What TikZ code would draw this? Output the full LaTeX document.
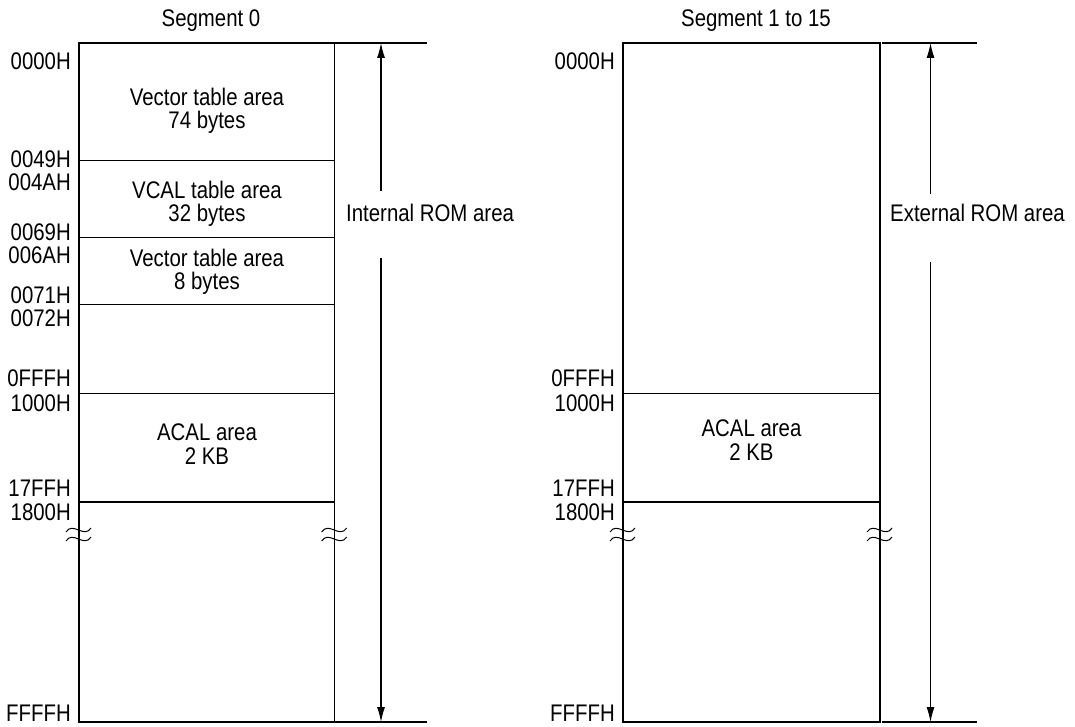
\documentclass[tikz,border=0pt]{standalone}
\usepackage{fontspec}
\setmainfont{Liberation Sans}[FakeStretch=0.85]
\usepackage{tikz}
\usetikzlibrary{arrows.meta}

\tikzset{
  mapline/.style={line width=1.2pt},
  addr/.style={anchor=east, inner sep=0pt, font=\fontsize{24}{23.5}\selectfont},
  areatext/.style={align=center, inner sep=0pt, font=\fontsize{24}{23.5}\selectfont},
  dimarrow/.style={-{Latex[length=15pt,width=8pt]}, line width=1.1pt},
}

\begin{document}
\begin{tikzpicture}[x=1pt,y=-1pt]
  \useasboundingbox (0,0) rectangle (1075,727);

  % Segment 0
  \node[areatext] (seg0) at (211,21) {Segment 0};
  \draw[mapline] (79,43) rectangle (334.7,722);
  \foreach \ly in {160.3,237.7,304.3,393.3,502}
    \draw[mapline] (79,\ly) -- (334.7,\ly);
  \draw[mapline] (334.7,43) -- (427,43);
  \draw[mapline] (334.7,722) -- (427,722);

  \node[addr] (a0000) at (71,61)  {0000H};
  \node[addr] (a0049) at (71,159) {0049H};
  \node[addr] (a004A) at (71,182) {004AH};
  \node[addr] (a0069) at (71,232) {0069H};
  \node[addr] (a006A) at (71,255) {006AH};
  \node[addr] (a0071) at (71,295) {0071H};
  \node[addr] (a0072) at (71,318) {0072H};
  \node[addr] (a0FFF) at (71,378) {0FFFH};
  \node[addr] (a1000) at (71,403) {1000H};
  \node[addr] (a17FF) at (71,488) {17FFH};
  \node[addr] (a1800) at (71,512) {1800H};
  \node[addr] (aFFFF) at (71,713) {FFFFH};

  \node[areatext] (vect74) at (207,111) {Vector table area\\74 bytes};
  \node[areatext] (vcal)   at (207,204) {VCAL table area\\32 bytes};
  \node[areatext] (vect8)  at (207,272) {Vector table area\\8 bytes};
  \node[areatext] (acal0)  at (207,444) {ACAL area\\2 KB};

  \coordinate (itop) at (381,43);
  \coordinate (ibot) at (381,722);
  \coordinate (igapT) at (381,191);
  \coordinate (igapB) at (381,258);
  \node[areatext, anchor=west] (introm) at (346,213) {Internal ROM area};
  \draw[dimarrow] (igapT) -- (itop);
  \draw[dimarrow] (igapB) -- (ibot);

  % Segment 1 to 15
  \node[areatext] (seg1) at (756,21) {Segment 1 to 15};
  \draw[mapline] (623,43) rectangle (880,722);
  \foreach \ly in {393.3,502}
    \draw[mapline] (623,\ly) -- (880,\ly);
  \draw[mapline] (882,43) -- (977,43);
  \draw[mapline] (882,722) -- (977,722);

  \node[addr] (b0000) at (615,61)  {0000H};
  \node[addr] (b0FFF) at (615,378) {0FFFH};
  \node[addr] (b1000) at (615,403) {1000H};
  \node[addr] (b17FF) at (615,488) {17FFH};
  \node[addr] (b1800) at (615,512) {1800H};
  \node[addr] (bFFFF) at (615,713) {FFFFH};

  \node[areatext] (acal1) at (751.5,440) {ACAL area\\2 KB};

  \coordinate (etop) at (930.5,43);
  \coordinate (ebot) at (930.5,722);
  \coordinate (egapT) at (930.5,194);
  \coordinate (egapB) at (930.5,262);
  \node[areatext, anchor=west] (extrom) at (890,213) {External ROM area};
  \draw[dimarrow] (egapT) -- (etop);
  \draw[dimarrow] (egapB) -- (ebot);

  % break marks
  \foreach \bx in {79,334.7,623,880}
    \foreach \by in {530,539}
      \draw[line width=1pt] ({\bx-13},{\by+2}) .. controls +(7,-11) and +(-7,11) .. ({\bx+12},{\by-2});
\end{tikzpicture}
\end{document}
